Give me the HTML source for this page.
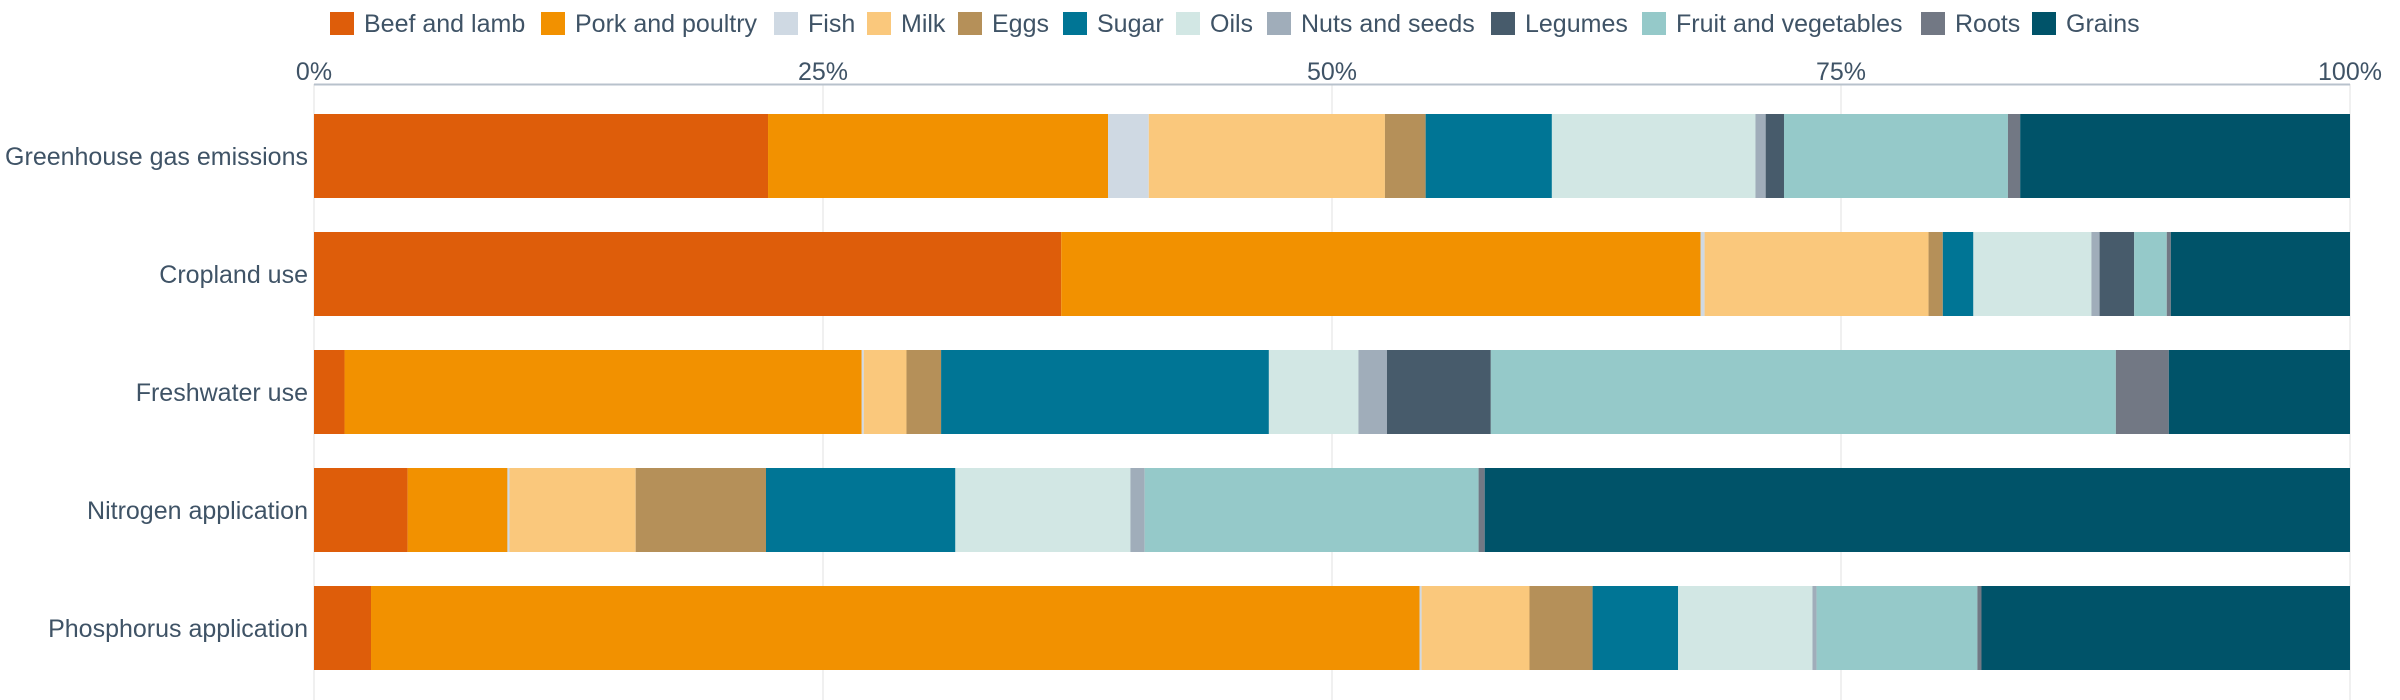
<!DOCTYPE html>
<html><head><meta charset="utf-8"><style>
html,body{margin:0;padding:0;background:#fff;}
svg{display:block;font-family:"Liberation Sans",sans-serif;}
</style></head><body>
<svg id="chart" width="2400" height="700" viewBox="0 0 2400 700" xmlns="http://www.w3.org/2000/svg">
<g id="legend"></g>
<g id="grid"></g>
<g id="xaxis"></g>
<g id="yaxis"></g>
<g id="bars"></g>
</svg>
<script>
const categories = ["Greenhouse gas emissions","Cropland use","Freshwater use","Nitrogen application","Phosphorus application"];
const seriesNames = ["Beef and lamb","Pork and poultry","Fish","Milk","Eggs","Sugar","Oils","Nuts and seeds","Legumes","Fruit and vegetables","Roots","Grains"];
const beefLamb   = [22.3, 36.7, 1.5, 4.6, 2.8];
const porkPoultry= [16.7, 31.4, 25.4, 4.9, 51.5];
const fish       = [2.0, 0.2, 0.1, 0.1, 0.1];
const milk       = [11.6, 11.0, 2.1, 6.2, 5.3];
const eggs       = [2.0, 0.7, 1.7, 6.4, 3.1];
const sugar      = [6.2, 1.5, 16.1, 9.3, 4.2];
const oils       = [10.0, 5.8, 4.4, 8.6, 6.6];
const nutsSeeds  = [0.5, 0.4, 1.4, 0.7, 0.2];
const legumes    = [0.9, 1.7, 5.1, 0.0, 0.0];
const fruitVeg   = [11.0, 1.6, 30.7, 16.4, 7.9];
const roots      = [0.6, 0.2, 2.6, 0.3, 0.2];
const grains     = [16.2, 8.8, 8.9, 42.5, 18.1];
const tickValues = [0, 25, 50, 75, 100];
const tickLabels = ["0%","25%","50%","75%","100%"];

const series = [beefLamb,porkPoultry,fish,milk,eggs,sugar,oils,nutsSeeds,legumes,fruitVeg,roots,grains];
const colors = ["#DE5D0A","#F29100","#CFD9E3","#FAC87C","#B59059","#007595","#D2E7E4","#A0ADBA","#475B6B","#95C9C9","#727884","#005369"];
const legendX = [330,541,774,867,958,1063,1176,1267,1491,1642,1921,2032];
const NS="http://www.w3.org/2000/svg";
const X0=314, X1=2350, BAR_TOP=114, PITCH=118, BAR_H=84;
const xScale = v => X0 + (X1-X0)*v/100;
const yScale = i => BAR_TOP + PITCH*i;
const TXT="#3f5366";
function mk(tag, attrs, parent){const e=document.createElementNS(NS,tag);for(const k in attrs)e.setAttribute(k,attrs[k]);parent.appendChild(e);return e;}

const legend=document.getElementById('legend');
seriesNames.forEach((n,i)=>{
  const g=mk('g',{},legend);
  
  
  const r=mk('rect',{x:legendX[i],y:12,width:24,height:23,fill:colors[i]},g);
  
  
  const t=mk('text',{x:legendX[i]+34,y:32,'font-size':25,fill:TXT},g);
  
  
  t.textContent=n;
});

const grid=document.getElementById('grid'), xaxis=document.getElementById('xaxis');
tickValues.forEach((v,i)=>{
  const l=mk('line',{x1:xScale(v),x2:xScale(v),y1:84,y2:700,stroke:'#ececec','stroke-width':1.5},grid);
  
  
  const t=mk('text',{x:xScale(v),y:80,'font-size':25,fill:TXT,'text-anchor':'middle'},xaxis);
  
  
  t.textContent=tickLabels[i];
});
const ax=mk('line',{x1:X0,x2:X1,y1:84.5,y2:84.5,stroke:'#b8c2cc','stroke-width':2},xaxis);



const yaxis=document.getElementById('yaxis'), bars=document.getElementById('bars');
categories.forEach((c,i)=>{
  const t=mk('text',{x:308,y:yScale(i)+BAR_H/2+9,'font-size':25,fill:TXT,'text-anchor':'end'},yaxis);
  
  
  t.textContent=c;
  let acc=0;
  series.forEach((s,j)=>{
    const v=s[i];
    if(v>0){
      const r=mk('rect',{x:xScale(acc),y:yScale(i),width:xScale(acc+v)-xScale(acc),height:BAR_H,fill:colors[j]},bars);
      
      
    }
    acc+=v;
  });
});
</script>
</body></html>
